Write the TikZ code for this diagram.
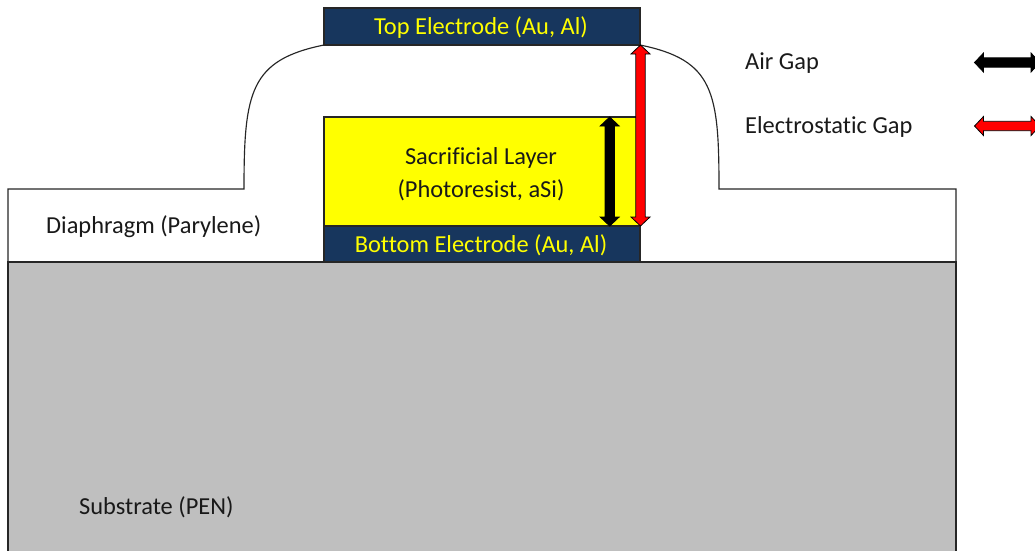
\documentclass[tikz,border=0pt]{standalone}
\usepackage{fontspec}
\setmainfont[Ligatures=NoCommon]{Carlito}
\definecolor{navy}{HTML}{17365D}
\definecolor{subgray}{HTML}{BFBFBF}
\definecolor{pureyellow}{HTML}{FFFF00}
\definecolor{purered}{HTML}{FF0000}
\tikzset{
  layer/.style={draw=black!85,line width=1.15pt},
  lab/.style={font=\fontsize{24.4}{29}\selectfont,text=black!90,inner sep=0pt},
  ylab/.style={lab,text=pureyellow},
  blockarrow/.style={draw=black,line width=0.8pt,line join=miter},
}
\newcommand{\vblock}[4]{% x, y1, y2, colour
  \draw[blockarrow,fill=#4] (#1,#2) -- (#1+9.5,#2+9) -- (#1+4.7,#2+9) -- (#1+4.7,#3-9) -- (#1+9.5,#3-9) -- (#1,#3)
    -- (#1-9.5,#3-9) -- (#1-4.7,#3-9) -- (#1-4.7,#2+9) -- (#1-9.5,#2+9) -- cycle;}
\newcommand{\hblock}[4]{% y, x1, x2, colour
  \draw[blockarrow,fill=#4] (#2,#1) -- (#2+9,#1-9.5) -- (#2+9,#1-4.7) -- (#3-9,#1-4.7) -- (#3-9,#1-9.5) -- (#3,#1)
    -- (#3-9,#1+9.5) -- (#3-9,#1+4.7) -- (#2+9,#1+4.7) -- (#2+9,#1+9.5) -- cycle;}
\begin{document}
\begin{tikzpicture}[x=1pt,y=-1pt]
\useasboundingbox (0,0) rectangle (1035,550);
\clip (0,0) rectangle (1035,550);
% diaphragm
\draw[layer,fill=white] (8,262) -- (8,189) -- (244,189) .. controls (244,92) and (250,60) .. (324,45)
  -- (640,45) .. controls (714,60) and (719,92) .. (719,189) -- (956,189) -- (956,262) -- cycle;
% substrate
\draw[layer,fill=subgray] (8,560) -- (8,262) -- (956,262) -- (956,560);
% layers
\draw[layer,fill=navy] (324,8) rectangle (640,45);
\draw[layer,fill=pureyellow] (324,117) rectangle (640,226);
\draw[layer,fill=navy] (324,226) rectangle (640,262);
% gap arrows
\vblock{609.7}{117}{226}{black}
\vblock{640.5}{45}{226}{purered}
% legend arrows
\hblock{62.5}{974.5}{1040}{black}
\hblock{126}{974.5}{1040}{purered}
% labels
\node[ylab] (top) at (481,27.5) {Top Electrode (Au, Al)};
\node[lab] (sac1) at (481,158) {Sacrificial Layer};
\node[lab] (sac2) at (481,190) {(Photoresist, aSi)};
\node[ylab] (bot) at (481,245.5) {Bottom Electrode (Au, Al)};
\node[lab,anchor=west] (dia) at (46,227) {Diaphragm (Parylene)};
\node[lab,anchor=west] (air) at (745,63) {Air Gap};
\node[lab,anchor=west] (est) at (745,127) {Electrostatic Gap};
\node[lab,anchor=west] (sub) at (79,507.5) {Substrate (PEN)};
\end{tikzpicture}
\end{document}
